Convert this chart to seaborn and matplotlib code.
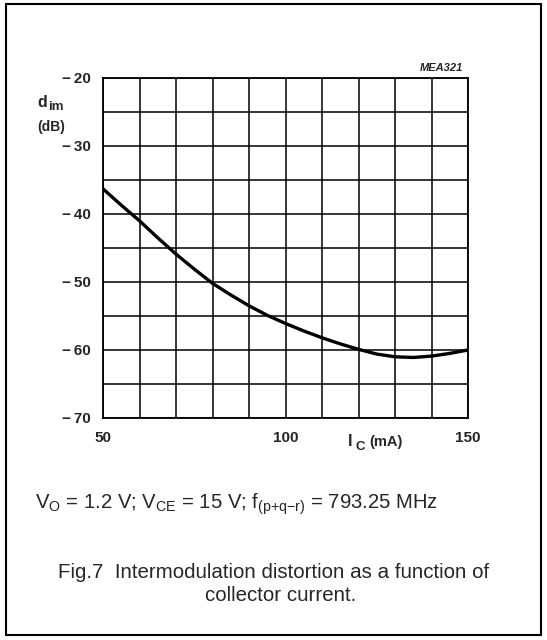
import matplotlib
matplotlib.use("Agg")
import matplotlib.pyplot as plt
import seaborn as sns
import pandas as pd
from matplotlib.patches import Rectangle

# collector current (mA)
ic_ma = [50, 55, 60, 65, 70, 75, 80, 85, 90, 95, 100, 105, 110, 115, 120, 125, 130, 135, 140, 145, 150]
# intermodulation distortion (dB)
dim_db = [-36.3, -38.7, -41.0, -43.5, -45.9, -48.1, -50.2, -51.9, -53.5, -54.9, -56.1,
          -57.2, -58.2, -59.1, -59.9, -60.6, -61.0, -61.1, -60.9, -60.5, -60.0]

x_major = [50, 100, 150]
x_labels = ["50", "100", "150"]
y_major = [-70, -60, -50, -40, -30, -20]
y_labels = ["\u2212\u200970", "\u2212\u200960", "\u2212\u200950",
            "\u2212\u200940", "\u2212\u200930", "\u2212\u200920"]

sns.set_style("white")
plt.rcParams["font.family"] = ["Liberation Sans", "DejaVu Sans"]
plt.rcParams["mathtext.default"] = "regular"

W, H = 547, 640
fig = plt.figure(figsize=(W / 100, H / 100), dpi=100)
ax = fig.add_axes([103 / W, 1 - 418 / H, (468 - 103) / W, (418 - 78) / H])

df = pd.DataFrame({"IC": ic_ma, "dim": dim_db})
sns.lineplot(data=df, x="IC", y="dim", color="black", linewidth=2.4, ax=ax)

ax.set_xlim(50, 150)
ax.set_ylim(-70, -20)
ax.set_xticks(x_major)
ax.set_xticklabels(x_labels)
ax.set_xticks(range(50, 151, 10), minor=True)
ax.set_yticks(y_major)
ax.set_yticklabels(y_labels)
ax.set_yticks(range(-70, -19, 5), minor=True)
ax.grid(True, which="both", color="black", linewidth=1.1)
ax.set_axisbelow(True)
for s in ax.spines.values():
    s.set_color("black")
    s.set_linewidth(1.3)
ax.tick_params(which="both", length=0)
ax.tick_params(axis="x", pad=9, labelsize=11)
ax.tick_params(axis="y", pad=9, labelsize=11)
for lab in ax.get_xticklabels() + ax.get_yticklabels():
    lab.set_fontweight("bold")
ax.set_xlabel("")
ax.set_ylabel("")

def ft(x, y, s, **kw):
    fig.text(x / W, 1 - y / H, s, **kw)

ft(463, 71, "MEA321", ha="right", va="baseline", fontsize=8, fontweight="bold", fontstyle="italic")
ft(37, 107, "d", ha="left", va="baseline", fontsize=11.5, fontweight="bold")
ft(48, 110, "im", ha="left", va="baseline", fontsize=9.5, fontweight="bold")
ft(37, 131, "(dB)", ha="left", va="baseline", fontsize=10, fontweight="bold")
ft(348, 446, "I", ha="left", va="baseline", fontsize=11.5, fontweight="bold")
ft(355, 450, "C", ha="left", va="baseline", fontsize=9.5, fontweight="bold")
ft(369, 446, "(mA)", ha="left", va="baseline", fontsize=10.5, fontweight="bold")

ft(35, 509, "$V_O$ = 1.2 V; $V_{CE}$ = 15 V; $f_{(p{+}q{-}r)}$ = 793.25 MHz",
   ha="left", va="baseline", fontsize=14.6)
ft(274, 578, "Fig.7  Intermodulation distortion as a function of",
   ha="center", va="baseline", fontsize=14.8)
ft(281, 601, "collector current.", ha="center", va="baseline", fontsize=14.8)

fig.patches.append(Rectangle((6 / W, 1 - 635 / H), (541 - 6) / W, (635 - 4) / H,
                             transform=fig.transFigure, fill=False,
                             edgecolor="black", linewidth=1.5))

fig.savefig("out.png", dpi=100)
